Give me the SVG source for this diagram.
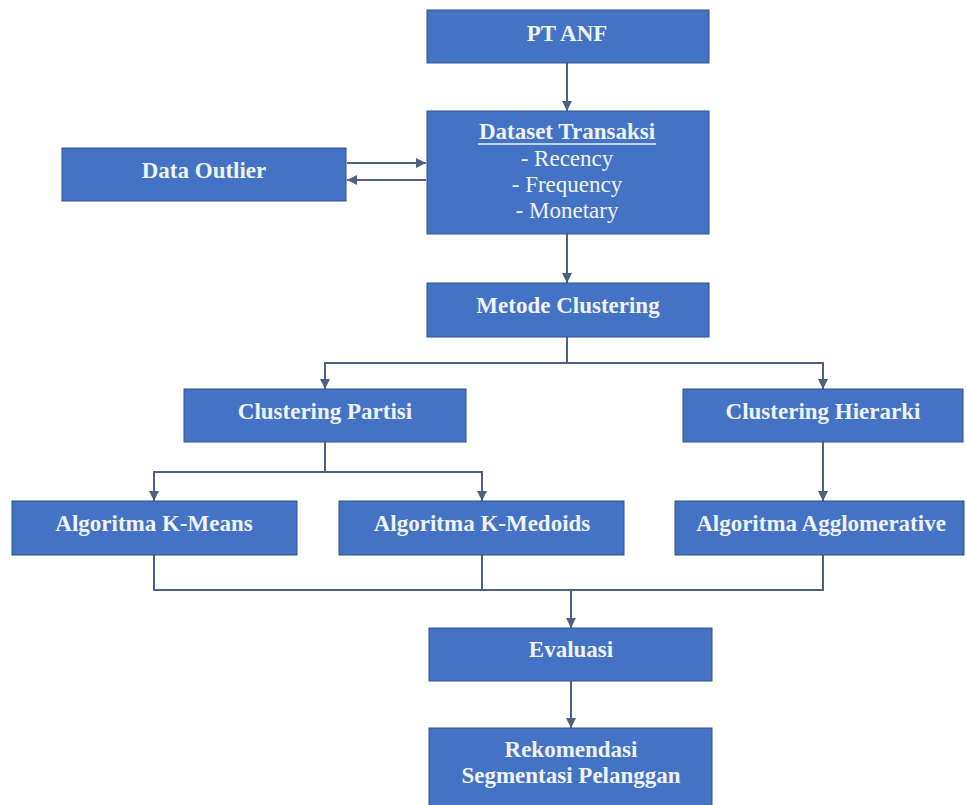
<svg xmlns="http://www.w3.org/2000/svg" width="966" height="805" viewBox="0 0 966 805">
  <style>
    .box { fill: #4472C4; stroke: #2F528F; stroke-width: 1; }
    text { font-family: 'Liberation Serif', 'DejaVu Serif', 'Times New Roman', serif; font-size: 23px; fill: #EEF3FA; text-anchor: middle; }
    .lbl { font-weight: bold; }
    .wire { fill: none; stroke: #4E6182; stroke-width: 2; }
    .arrow { fill: none; stroke: #4E6182; stroke-width: 2; marker-end: url(#tip); }
  </style>
  <defs>
    <marker id="tip" markerUnits="userSpaceOnUse" markerWidth="12" markerHeight="12" refX="10" refY="5" orient="auto">
      <path d="M0,0 L10,5 L0,10 Z" fill="#4E6182"/>
    </marker>
  </defs>
  <rect width="966" height="805" fill="#FFFFFF"/>

  <!-- connectors -->
  <g id="connectors">
    <line class="arrow" x1="567" y1="63" x2="567" y2="111"/>
    <line class="arrow" x1="347" y1="163" x2="426" y2="163"/>
    <line class="arrow" x1="426" y1="180" x2="347" y2="180"/>
    <line class="arrow" x1="567" y1="234" x2="567" y2="283"/>
    <polyline class="wire" points="567,337 567,363"/>
    <polyline class="wire" points="325,363 823,363"/>
    <line class="arrow" x1="325" y1="362" x2="325" y2="389"/>
    <line class="arrow" x1="823" y1="362" x2="823" y2="389"/>
    <polyline class="wire" points="325,442 325,472"/>
    <polyline class="wire" points="154,472 482,472"/>
    <line class="arrow" x1="154" y1="471" x2="154" y2="501"/>
    <line class="arrow" x1="482" y1="471" x2="482" y2="501"/>
    <line class="arrow" x1="823" y1="442" x2="823" y2="501"/>
    <polyline class="wire" points="154,555 154,590 823,590 823,555"/>
    <polyline class="wire" points="482,555 482,590"/>
    <line class="arrow" x1="571" y1="589" x2="571" y2="628"/>
    <line class="arrow" x1="571" y1="681" x2="571" y2="728"/>
  </g>

  <g id="pt-anf">
    <rect class="box" x="427" y="10" width="282" height="53"/>
    <text class="lbl" x="567" y="41">PT ANF</text>
  </g>

  <g id="dataset-transaksi">
    <rect class="box" x="427" y="111" width="282" height="123"/>
    <text class="lbl" x="567" y="139">Dataset Transaksi</text>
    <line x1="478" y1="144" x2="656" y2="144" stroke="#EEF3FA" stroke-width="1.5"/>
    <text x="567" y="166">- Recency</text>
    <text x="567" y="192">- Frequency</text>
    <text x="567" y="218">- Monetary</text>
  </g>

  <g id="data-outlier">
    <rect class="box" x="62" y="148" width="284" height="53"/>
    <text class="lbl" x="204" y="178">Data Outlier</text>
  </g>

  <g id="metode-clustering">
    <rect class="box" x="427" y="283" width="282" height="54"/>
    <text class="lbl" x="568" y="313">Metode Clustering</text>
  </g>

  <g id="clustering-partisi">
    <rect class="box" x="184" y="389" width="282" height="53"/>
    <text class="lbl" x="325" y="419">Clustering Partisi</text>
  </g>

  <g id="clustering-hierarki">
    <rect class="box" x="683" y="389" width="280" height="53"/>
    <text class="lbl" x="823" y="419">Clustering Hierarki</text>
  </g>

  <g id="k-means">
    <rect class="box" x="12" y="501" width="285" height="54"/>
    <text class="lbl" x="154" y="531">Algoritma K-Means</text>
  </g>

  <g id="k-medoids">
    <rect class="box" x="339" y="501" width="285" height="54"/>
    <text class="lbl" x="482" y="531">Algoritma K-Medoids</text>
  </g>

  <g id="agglomerative">
    <rect class="box" x="675" y="501" width="289" height="54"/>
    <text class="lbl" x="821" y="531">Algoritma Agglomerative</text>
  </g>

  <g id="evaluasi">
    <rect class="box" x="429" y="628" width="283" height="53"/>
    <text class="lbl" x="571" y="657">Evaluasi</text>
  </g>

  <g id="rekomendasi">
    <rect class="box" x="429" y="728" width="283" height="82"/>
    <text class="lbl" x="571" y="757">Rekomendasi</text>
    <text class="lbl" x="571" y="783">Segmentasi Pelanggan</text>
  </g>
</svg>
